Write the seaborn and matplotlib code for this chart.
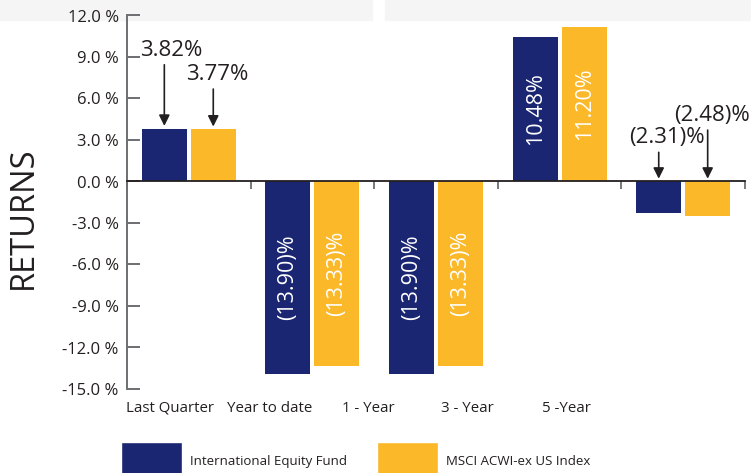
import matplotlib
matplotlib.use("Agg")
import matplotlib.pyplot as plt
from matplotlib.patches import Patch, Rectangle
import seaborn as sns
import pandas as pd

# --- data ---
categories = ["Last Quarter", "Year to date", "1 - Year", "3 - Year", "5 -Year"]
series = ["International Equity Fund", "MSCI ACWI-ex US Index"]
fund_returns = [3.82, -13.90, -13.90, 10.48, -2.31]
index_returns = [3.77, -13.33, -13.33, 11.20, -2.48]
y_ticks = [-15, -12, -9, -6, -3, 0, 3, 6, 9, 12]

# bars labelled outside with an arrow (others get a rotated label inside)
arrow_cats = ["Last Quarter", "5 -Year"]
# (dx, dy) label offset in points for the arrowed labels, per series
arrow_offsets = {
    0: {"Last Quarter": (5, 49), "5 -Year": (6, 24)},
    1: {"Last Quarter": (3, 32), "5 -Year": (3, 40)},
}

NAVY = "#1b2672"
GOLD = "#fbb829"
INK = "#231f20"
GRAY = "#6d6e71"

df = pd.DataFrame({
    "category": categories * 2,
    "series": [series[0]] * len(categories) + [series[1]] * len(categories),
    "value": fund_returns + index_returns,
})

sns.set_style("white")
plt.rcParams["font.family"] = ["Open Sans", "DejaVu Sans"]

fig = plt.figure(figsize=(7.51, 4.73), dpi=100)

# light gray strip across the top (split in two)
for x0, w in [(0, 372), (385, 366)]:
    fig.patches.append(Rectangle((x0 / 751, 1 - 20.5 / 473), w / 751, 20.5 / 473,
                                 transform=fig.transFigure, color="#f5f5f5", zorder=-5))

ax = fig.add_axes([127 / 751, 1 - 389 / 473, (745 - 127) / 751, (389 - 15.5) / 473])
ax.patch.set_alpha(0)

sns.barplot(data=df, x="category", y="value", hue="series", order=categories,
            hue_order=series, palette=[NAVY, GOLD], width=0.792, gap=0.081,
            saturation=1, linewidth=0, legend=False, ax=ax)

ax.set_xlim(-0.5, len(categories) - 0.5)
ax.set_ylim(-15, 12)
ax.set_yticks(y_ticks)
ax.set_yticklabels([f"{v:.1f} %" for v in y_ticks], fontsize=12, color=INK)
ax.tick_params(axis="y", direction="in", length=9.5, width=1.4, color=GRAY, pad=6, left=True)

# x axis line sits on zero, ticks at category boundaries
ax.spines["bottom"].set_position(("data", 0))
ax.spines["bottom"].set_color(INK)
ax.spines["bottom"].set_linewidth(1.3)
ax.set_xticks([i - 0.5 for i in range(len(categories) + 1)])
ax.set_xticklabels([])
ax.tick_params(axis="x", direction="out", length=6, width=1.3, color=GRAY, bottom=True)
for s in ["top", "right"]:
    ax.spines[s].set_visible(False)
ax.spines["left"].set_color(GRAY)
ax.spines["left"].set_linewidth(1.4)
ax.set_xlabel("")
ax.set_ylabel("")

# category names under the plot (evenly spaced as in the reference)
for i, name in enumerate(categories):
    ax.text(0.0696 + 0.1605 * i, -0.032, name, transform=ax.transAxes,
            ha="center", va="top", fontsize=10.8, color=INK)


def fmt(v):
    return f"{v:.2f}%" if v >= 0 else f"({abs(v):.2f})%"


for si, cont in enumerate(ax.containers):
    for ci, bar in enumerate(cont):
        v = bar.get_height()
        xc = bar.get_x() + bar.get_width() / 2
        cat = categories[ci]
        if cat in arrow_cats:
            tip = max(v, 0)
            dx, dy = arrow_offsets[si][cat]
            ax.annotate(fmt(v), xy=(xc, tip), xytext=(dx, dy), textcoords="offset points",
                        ha="center", va="bottom", fontsize=16, color=INK)
            ax.annotate("", xy=(xc, tip), xytext=(0, dy - 3), textcoords="offset points",
                        arrowprops=dict(arrowstyle="-|>", color=INK, lw=1.2,
                                        mutation_scale=16, shrinkA=0, shrinkB=2))
        else:
            ax.text(xc, v / 2, fmt(v), rotation=90, ha="center", va="center",
                    fontsize=15.5, color="white")

fig.text(23.5 / 751, 1 - 218 / 473, "RETURNS", rotation=90, ha="center", va="center",
         fontsize=23.5, color=INK)

handles = [Patch(facecolor=NAVY, label=series[0]), Patch(facecolor=GOLD, label=series[1])]
fig.legend(handles=handles, loc="center left", bbox_to_anchor=(121 / 751, 1 - 462 / 473),
           ncol=2, frameon=False, fontsize=9.5, handlelength=4.6, handleheight=4.2,
           handletextpad=0.6, columnspacing=2.3, borderpad=0, borderaxespad=0,
           labelcolor=INK)

fig.savefig("out.png", dpi=100)
